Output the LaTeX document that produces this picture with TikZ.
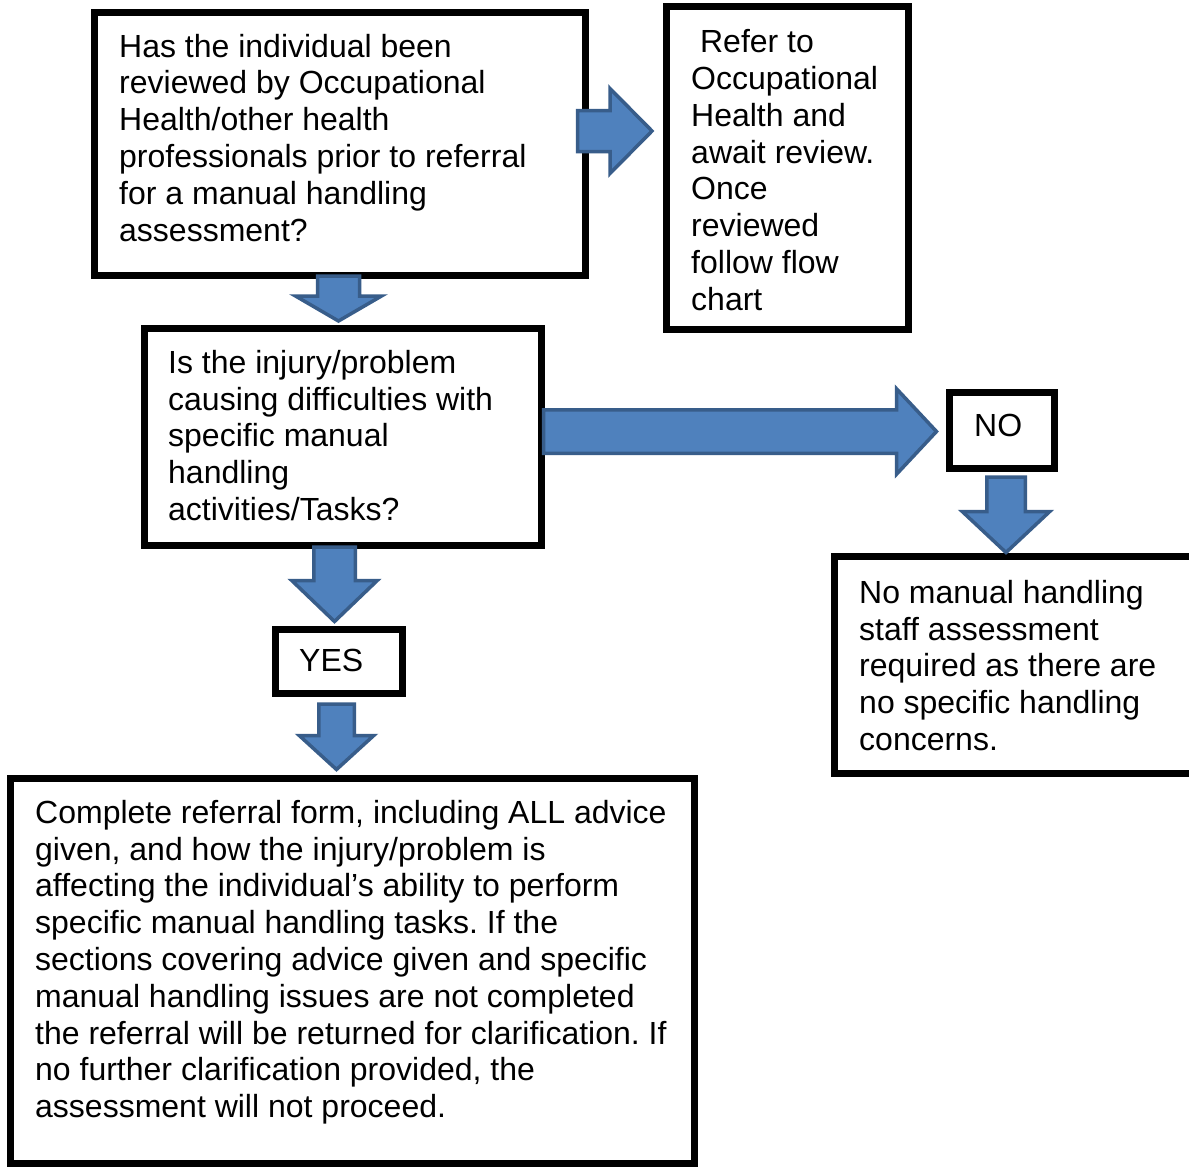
\documentclass[tikz,border=0pt]{standalone}
\usepackage{fontspec}
\setmainfont{Liberation Sans}
\usetikzlibrary{calc}
\definecolor{arrowfill}{HTML}{4F81BD}
\definecolor{arrowline}{HTML}{385D8A}
\frenchspacing
\tikzset{
  flowbox/.style={draw=black, line width=7pt, fill=white, rectangle, inner sep=0pt},
  blockarrow/.style={fill=arrowfill, draw=arrowline, line width=3.5pt, line join=miter},
  boxtext/.style={anchor=base west, inner sep=0pt, font=\fontsize{32}{36.8}\selectfont},
}
\newcommand\txt[2]{\parbox[t]{#1}{\raggedright\frenchspacing #2}}
% right block arrow: start, tip, shaft half, head half, head length
\newcommand\rightblock[5]{%
  \draw[blockarrow] let \p1=#1, \p2=#2 in
    (\x1,\y1+#3) -- (\x2-#5,\y1+#3) -- (\x2-#5,\y1+#4) -- (\x2,\y1)
    -- (\x2-#5,\y1-#4) -- (\x2-#5,\y1-#3) -- (\x1,\y1-#3) -- cycle;}
% down block arrow: start, tip, shaft half, head half, head length
\newcommand\downblock[5]{%
  \draw[blockarrow] let \p1=#1, \p2=#2 in
    (\x1-#3,\y1) -- (\x1+#3,\y1) -- (\x1+#3,\y2+#5) -- (\x1+#4,\y2+#5)
    -- (\x1,\y2) -- (\x1-#4,\y2+#5) -- (\x1-#3,\y2+#5) -- cycle;}
\begin{document}
\begin{tikzpicture}[x=1pt, y=-1pt]
\useasboundingbox[fill=white] (0,0) rectangle (1189,1167);

% boxes
\node[flowbox, minimum width=491pt, minimum height=263pt] (A) at (340,144) {};
\node[flowbox, minimum width=242pt, minimum height=323pt] (B) at (787.5,168) {};
\node[flowbox, minimum width=397pt, minimum height=217pt] (C) at (343,437) {};
\node[flowbox, minimum width=105pt, minimum height=76pt] (N) at (1002,430.5) {};
\node[flowbox, minimum width=127pt, minimum height=64pt] (Y) at (339,661.5) {};
\node[flowbox, minimum width=358.5pt, minimum height=217pt] (M) at (1013.75,665) {};
\node[flowbox, minimum width=684pt, minimum height=385pt] (D) at (352.5,971) {};

% texts
\node[boxtext] (tA) at (119,57) {\txt{470pt}{Has the individual been\\reviewed by Occupational\\Health/other health\\professionals prior to referral\\for a manual handling\\assessment?}};
\node[boxtext] (tB) at (691,52.7) {\txt{220pt}{\hspace*{8.9pt}Refer to\\Occupational\\Health and\\await review.\\Once\\reviewed\\follow flow\\chart}};
\node[boxtext] (tC) at (168,373.3) {\txt{380pt}{Is the injury/problem\\causing difficulties with\\specific manual\\handling\\activities/Tasks?}};
\node[boxtext] (tN) at (974,436.7) {NO};
\node[boxtext] (tY) at (299,671.7) {YES};
\node[boxtext] (tM) at (859,603.3) {\txt{330pt}{No manual handling\\staff assessment\\required as there are\\no specific handling\\concerns.}};
\node[boxtext] (tD) at (35,823.3) {\txt{660pt}{Complete referral form, including ALL advice\\given, and how the injury/problem is\\affecting the individual’s ability to perform\\specific manual handling tasks. If the\\sections covering advice given and specific\\manual handling issues are not completed\\the referral will be returned for clarification. If\\no further clarification provided, the\\assessment will not proceed.}};

% block arrows
\rightblock{($(A.east)+(-11.5,-13)$)}{($(B.west)+(-11,0)$)}{20.5pt}{42.5pt}{42pt}
\downblock{($(A.south)+(-1.5,-3)$)}{($(C.north)+(0,-4)$)}{21pt}{43pt}{25pt}
\rightblock{($(C.east)+(-1.5,-5.5)$)}{($(N.west)+(-9.5,0)$)}{21.75pt}{42.75pt}{40pt}
\downblock{($(N.south)+(4,5)$)}{($(M.north)+(0,-0.5)$)}{19.25pt}{43.75pt}{41pt}
\downblock{($(C.south)+(-8.5,-2)$)}{($(Y.north)+(0,-4.5)$)}{20.75pt}{42.75pt}{41pt}
\downblock{($(Y.south)+(-2.5,7)$)}{($(D.north)+(0,-5.5)$)}{17.75pt}{37.25pt}{34pt}
\end{tikzpicture}
\end{document}
